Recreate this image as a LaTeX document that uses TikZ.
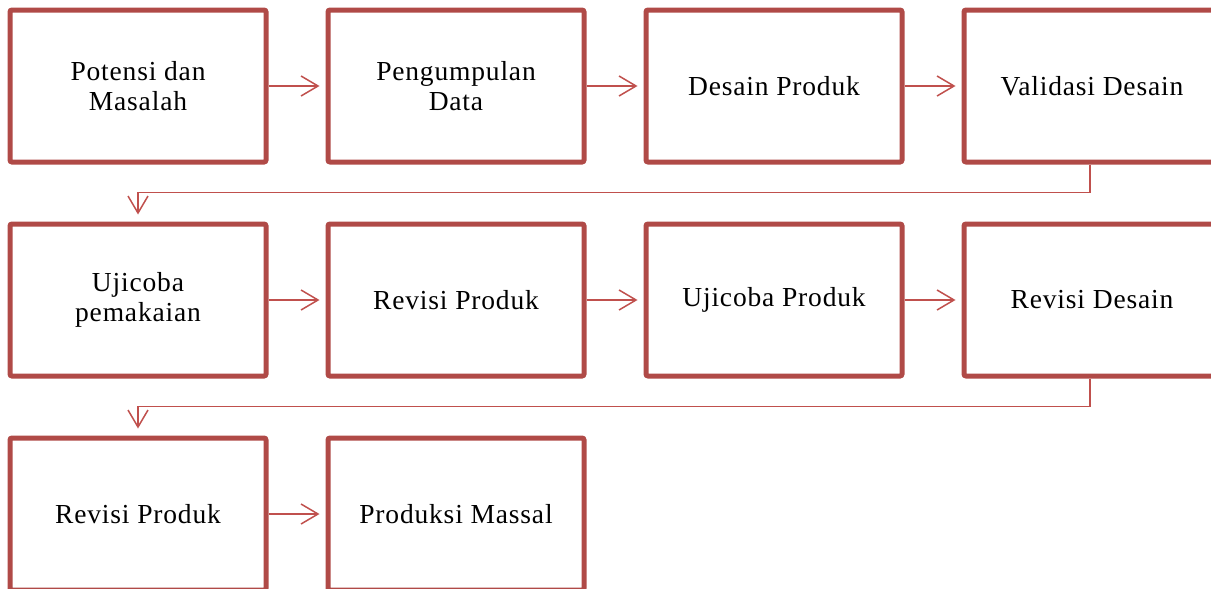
\documentclass[tikz,border=0pt]{standalone}
\usepackage{fontspec}
\setmainfont[LetterSpace=3]{Liberation Serif}
\usetikzlibrary{arrows.meta}
\definecolor{boxred}{RGB}{176,74,71}
\definecolor{arrred}{RGB}{192,80,77}
\begin{document}
\begin{tikzpicture}[x=1pt,y=-1pt,
  stepbox/.style={draw=boxred, line width=5pt, rounded corners=2pt, fill=white,
    minimum width=256pt, minimum height=152pt, inner sep=0pt, align=center,
    font=\fontsize{27.5}{30}\selectfont, text=black},
  arr/.style={draw=arrred, line width=1.5pt,
    -{Straight Barb[length=17pt,width=20pt,line width=1.5pt]}, shorten >=6pt}]
\useasboundingbox (0,0) rectangle (1211,589);
\node[stepbox] (a1) at (138,86) {Potensi dan\\Masalah};
\node[stepbox] (a2) at (456,86) {Pengumpulan\\Data};
\node[stepbox] (a3) at (774,86) {Desain Produk};
\node[stepbox] (a4) at (1092,86) {Validasi Desain};
\node[stepbox] (b1) at (138,300) {Ujicoba\\pemakaian};
\node[stepbox] (b2) at (456,300) {Revisi Produk};
\node[stepbox] (b3) at (774,300) {Ujicoba Produk};
\node[stepbox] (b4) at (1092,300) {Revisi Desain};
\node[stepbox] (c1) at (138,514) {Revisi Produk};
\node[stepbox] (c2) at (456,514) {Produksi Massal};
\draw[arr] (a1) -- (a2);
\draw[arr] (a2) -- (a3);
\draw[arr] (a3) -- (a4);
\draw[arr] (b1) -- (b2);
\draw[arr] (b2) -- (b3);
\draw[arr] (b3) -- (b4);
\draw[arr] (c1) -- (c2);
\draw[arr, shorten >=7pt] ([xshift=-2pt]a4.south) -- ++(0,28) -| (b1.north);
\draw[arr, shorten >=7pt] ([xshift=-2pt]b4.south) -- ++(0,28) -| (c1.north);
\end{tikzpicture}
\end{document}
